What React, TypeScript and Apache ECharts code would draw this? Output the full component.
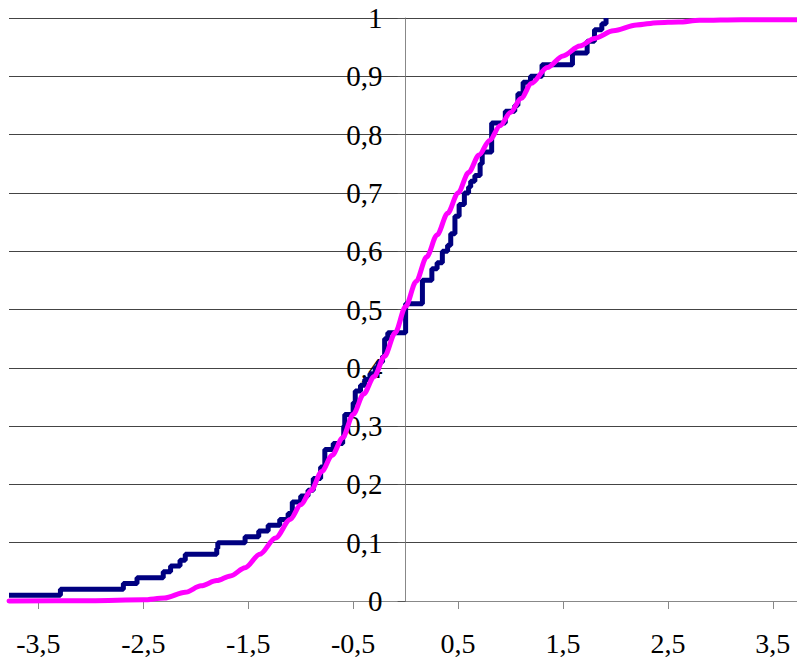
import React, { useEffect, useRef } from "react";
import * as echarts from "echarts";

const xTickValues = [-3.5, -2.5, -1.5, -0.5, 0.5, 1.5, 2.5, 3.5];

const ecdfX = [-3.78, -3.29, -2.69, -2.56, -2.31, -2.24, -2.15, -2.10, -1.80, -1.79, -1.53, -1.40, -1.31, -1.20, -1.12, -1.08, -1.00, -0.93, -0.88, -0.81, -0.77, -0.69, -0.60, -0.59, -0.58, -0.50, -0.48, -0.43, -0.39, -0.34, -0.29, -0.26, -0.22, -0.20, -0.17, 0.00, 0.16, 0.25, 0.30, 0.35, 0.40, 0.43, 0.47, 0.51, 0.56, 0.60, 0.62, 0.66, 0.71, 0.73, 0.82, 0.95, 1.04, 1.07, 1.12, 1.19, 1.30, 1.59, 1.73, 1.80, 1.87, 1.91];
const ecdfY = [0.01, 0.02, 0.03, 0.04, 0.05, 0.06, 0.07, 0.08, 0.09, 0.10, 0.11, 0.12, 0.13, 0.14, 0.15, 0.17, 0.18, 0.19, 0.21, 0.23, 0.26, 0.27, 0.28, 0.30, 0.32, 0.34, 0.36, 0.37, 0.38, 0.39, 0.40, 0.41, 0.42, 0.45, 0.46, 0.51, 0.55, 0.57, 0.58, 0.60, 0.61, 0.63, 0.66, 0.68, 0.70, 0.71, 0.72, 0.73, 0.75, 0.77, 0.82, 0.84, 0.85, 0.87, 0.89, 0.90, 0.92, 0.94, 0.96, 0.98, 0.99, 1.00];

const normX = [-3.78, -3.0, -2.5, -2.3, -2.1, -1.95, -1.8, -1.67, -1.53, -1.39, -1.24, -1.1, -1.0, -0.9, -0.8, -0.7, -0.6, -0.5, -0.4, -0.3, -0.2, -0.1, 0.0, 0.1, 0.2, 0.3, 0.4, 0.5, 0.6, 0.7, 0.8, 0.9, 1.0, 1.1, 1.2, 1.35, 1.5, 1.66, 1.8, 1.98, 2.2, 2.4, 2.6, 2.8, 3.2, 3.73];
const normY = [0.0, 0.0005, 0.002, 0.005, 0.015, 0.026, 0.035, 0.043, 0.057, 0.08, 0.108, 0.14, 0.165, 0.19, 0.222, 0.25, 0.28, 0.32, 0.355, 0.385, 0.42, 0.46, 0.505, 0.548, 0.59, 0.628, 0.665, 0.70, 0.735, 0.765, 0.79, 0.815, 0.838, 0.862, 0.888, 0.915, 0.935, 0.952, 0.965, 0.978, 0.988, 0.992, 0.993, 0.996, 0.997, 0.997];

const X_MIN = -3.78;
const X_MAX = 3.73;

const fmt = (v: number) => String(Math.round(v * 10) / 10).replace(".", ",");

export default function App() {
  const ref = useRef<HTMLDivElement>(null);
  useEffect(() => {
    if (!ref.current) return;
    const chart = echarts.init(ref.current, null, { renderer: "svg" });
    const font = "Times New Roman, Liberation Serif, DejaVu Serif, serif";
    const gridLeft = 9;
    const gridWidth = 797 - gridLeft;
    const zeroOffset = ((0 - X_MIN) / (X_MAX - X_MIN)) * gridWidth;
    chart.setOption({
      animation: false,
      backgroundColor: "#ffffff",
      textStyle: { fontFamily: font },
      grid: { left: gridLeft, right: 0, top: 18, bottom: 58, containLabel: false, outerBoundsMode: "none" },
      xAxis: {
        type: "value",
        min: X_MIN,
        max: X_MAX,
        axisLine: { show: true, onZero: false, lineStyle: { color: "#888888", width: 1 } },
        axisTick: { show: true, length: 8, customValues: xTickValues, lineStyle: { color: "#888888" } },
        axisLabel: {
          show: true,
          customValues: xTickValues,
          margin: 28,
          fontFamily: font,
          fontSize: 28,
          color: "#000000",
          formatter: (v: number) => fmt(v),
        },
        splitLine: { show: false },
      },
      yAxis: {
        type: "value",
        min: 0,
        max: 1,
        interval: 0.1,
        position: "left",
        offset: -zeroOffset,
        axisLine: { show: true, onZero: false, lineStyle: { color: "#888888", width: 1 } },
        axisTick: { show: true, length: 8, lineStyle: { color: "#555555" } },
        axisLabel: {
          margin: 23,
          fontFamily: font,
          fontSize: 29,
          color: "#000000",
          formatter: (v: number) => fmt(v),
        },
        splitLine: { show: true, lineStyle: { color: "#444444", width: 1 } },
      },
      series: [
        {
          type: "line",
          data: ecdfX.map((x, i) => [x, ecdfY[i]]),
          step: "end",
          showSymbol: false,
          clip: false,
          lineStyle: { color: "#000080", width: 5 },
          z: 3,
        },
        {
          type: "line",
          data: normX.map((x, i) => [x, normY[i]]),
          smooth: 0.3,
          smoothMonotone: "x",
          showSymbol: false,
          clip: false,
          lineStyle: { color: "#ff00ff", width: 5, cap: "round", join: "round" },
          z: 4,
        },
      ],
    });
    return () => chart.dispose();
  }, []);
  return (
    <div
      ref={ref}
      style={{ position: "fixed", left: 0, top: 0, width: 797, height: 659, background: "#fff" }}
    />
  );
}
